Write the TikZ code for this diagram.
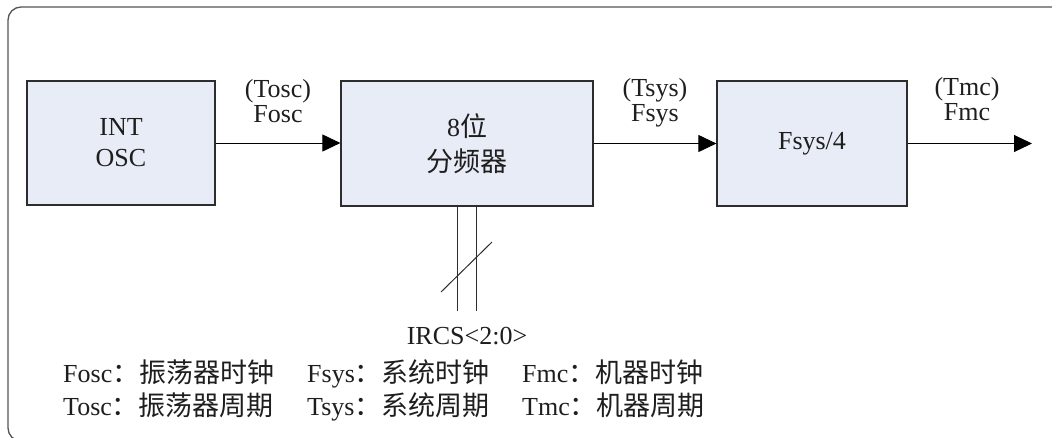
\documentclass[tikz,border=0pt]{standalone}
\usepackage{fontspec}
\setmainfont{Liberation Serif}
\newfontfamily\cjk{Noto Sans CJK SC}
\usetikzlibrary{arrows.meta}
\definecolor{boxfill}{RGB}{232,236,246}
\definecolor{boxline}{RGB}{45,45,45}
\definecolor{framecol}{RGB}{85,85,85}
\definecolor{txt}{RGB}{30,30,30}
\newcommand{\cj}[1]{{\cjk\fontsize{27}{27}\selectfont #1}}
\begin{document}
\begin{tikzpicture}[x=1pt,y=-1pt,
  blk/.style={draw=boxline, fill=boxfill, line width=1.2pt, inner sep=0pt, align=center, text=txt,
              font=\fontsize{26}{31}\selectfont},
  lbl/.style={anchor=base, inner sep=0pt, text=txt, font=\fontsize{26}{26}\selectfont},
  leg/.style={anchor=base west, inner sep=0pt, text=txt, font=\fontsize{26}{26}\selectfont},
  conn/.style={draw=black, line width=1pt, -{Triangle[length=18pt,width=17pt]}},
  bus/.style={draw=boxline, line width=1pt}]
\useasboundingbox (0,0) rectangle (1052,437);
\clip (0,0) rectangle (1052,437);
% outer frame
\draw[framecol, line width=1.3pt, rounded corners=13pt] (8,7) rectangle (1075,441);
% blocks
\node[blk, minimum width=188pt, minimum height=124pt] (osc) at (121,143) {INT\\OSC};
\node[blk, minimum width=252pt, minimum height=125pt, font=\fontsize{26}{35}\selectfont] (div) at (467,143.5) {8\cj{位}\\\cj{分频器}};
\node[blk, minimum width=190pt, minimum height=125pt] (mc) at (812,143.5) {Fsys/4};
% connectors
\coordinate (out) at (1032,143.5);
\draw[conn] (osc.east) -- (osc.east -| div.west);
\draw[conn] (div.east) -- (div.east -| mc.west);
\draw[conn] (mc.east) -- (out);
% connector labels
\node[lbl] (tosc) at (278,97) {(Tosc)};
\node[lbl] (fosc) at (278,122) {Fosc};
\node[lbl] (tsys) at (655,96) {(Tsys)};
\node[lbl] (fsys) at (655,121) {Fsys};
\node[lbl] (tmc) at (967,95) {(Tmc)};
\node[lbl] (fmc) at (967,120) {Fmc};
% bus
\coordinate (b1) at (457,311);
\coordinate (b2) at (476,311);
\coordinate (s1) at (441,292);
\coordinate (s2) at (492,242);
\draw[bus] (div.south -| b1) -- (b1);
\draw[bus] (div.south -| b2) -- (b2);
\draw[bus] (s1) -- (s2);
\node[lbl] (ircs) at (467,344) {IRCS<2:0>};
% legend
\node[leg] (l1) at (63,382) {Fosc\cj{：振荡器时钟}};
\node[leg] (l2) at (307,382) {Fsys\cj{：系统时钟}};
\node[leg] (l3) at (522,382) {Fmc\cj{：机器时钟}};
\node[leg] (l4) at (63,415) {Tosc\cj{：振荡器周期}};
\node[leg] (l5) at (307,415) {Tsys\cj{：系统周期}};
\node[leg] (l6) at (522,415) {Tmc\cj{：机器周期}};
\end{tikzpicture}
\end{document}
